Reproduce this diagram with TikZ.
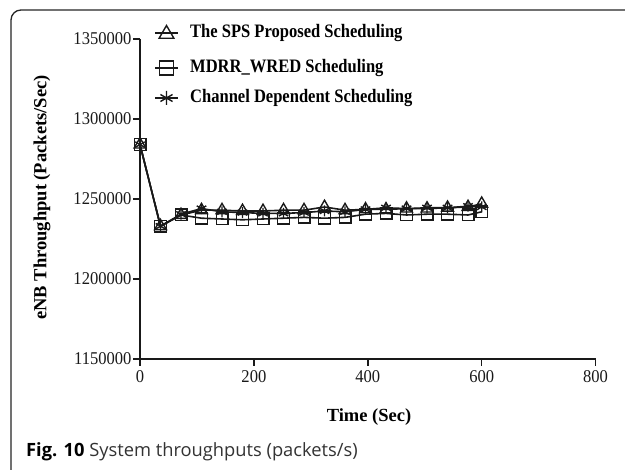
\documentclass[tikz,border=0pt]{standalone}
\usepackage{fontspec}
\setmainfont{Liberation Serif}
\newfontfamily\capfont{Open Sans}
\usetikzlibrary{plotmarks}

\tikzset{
  axisline/.style={line width=1.7pt, black!90},
  tickline/.style={line width=1.4pt, black!90},
  ticklabel/.style={font=\fontsize{18}{18}\selectfont, inner sep=1pt, xscale=0.92},
  series/.style={line width=1.6pt, black!90, mark options={solid, line width=1.4pt}},
  legtext/.style={font=\fontsize{19}{19}\selectfont\bfseries, anchor=west, inner sep=0pt, xscale=0.87},
  axtitle/.style={font=\fontsize{18.5}{19}\selectfont\bfseries},
}

\begin{document}
\begin{tikzpicture}[x=1pt,y=1pt]
\useasboundingbox (0,0) rectangle (625,470);
\fill[white] (0,0) rectangle (625,470);

% figure frame
\draw[line width=1.3pt, black!85, rounded corners=10pt] (11,-4) -- (11,460) -- (640,460);

% plot area: x in seconds, y in thousands above 1150000
\begin{scope}[shift={(140,111)}, x=0.5695pt, y=1.6pt]
  \draw[axisline] (0,200) -- (0,0) -- (800,0);
  \foreach \v/\lab in {0/1150000,50/1200000,100/1250000,150/1300000,200/1350000}
    \draw[tickline] (0,\v) -- ++(-7pt,0) node[ticklabel, anchor=east] {\lab};
  \foreach \t in {0,200,400,600,800}
    \draw[tickline] (\t,0) -- ++(0,-7pt) node[ticklabel, anchor=north, yshift=-3pt] {\t};

  % MDRR_WRED scheduling
  \draw[series] plot[mark=square, mark size=5.8pt] coordinates {
    (0,134) (36,83) (72,90) (108,88) (144,87.5) (180,87) (216,87.5) (252,88)
    (288,88.5) (324,88) (360,88.5) (396,90.5) (432,91) (468,90) (504,90.5)
    (540,90.5) (576,90) (600,92)};
  % channel dependent scheduling
  \draw[series] plot[mark=asterisk, mark size=5.5pt] coordinates {
    (0,134) (36,83) (72,90.5) (108,94) (144,92) (180,91.5) (216,91) (252,91)
    (288,91.5) (324,92.5) (360,92) (396,93.5) (432,94.5) (468,94) (504,94.5)
    (540,94.5) (576,95.5) (600,95)};
  % proposed SPS scheduling
  \draw[series] plot[mark=triangle, mark size=6.8pt] coordinates {
    (0,134) (36,83) (72,90) (108,93) (144,93) (180,92.5) (216,92.5) (252,93)
    (288,93) (324,95) (360,93) (396,93.5) (432,93.5) (468,94) (504,94)
    (540,94.5) (576,95) (600,97)};
\end{scope}

% legend
\coordinate (l1a) at (155,437); \coordinate (l1b) at (178,437);
\coordinate (l2a) at (155,402); \coordinate (l2b) at (178,402);
\coordinate (l3a) at (155,372); \coordinate (l3b) at (178,372);
\draw[series] plot[mark=triangle, mark size=8.5pt] coordinates {(166.5,436)};
\draw[series] (l1a) -- (l1b);
\draw[series] plot[mark=square, mark size=7pt] coordinates {(166.5,402)};
\draw[series] (l2a) -- (l2b);
\draw[series] plot[mark=asterisk, mark size=7pt] coordinates {(166.5,372)};
\draw[series] (l3a) -- (l3b);
\node[legtext] (t1) at (190,437) {The SPS Proposed Scheduling};
\node[legtext] (t2) at (190,402) {MDRR\_WRED Scheduling};
\node[legtext] (t3) at (190,372) {Channel Dependent Scheduling};

% axis titles
\node[axtitle, rotate=90] (ylab) at (42,272.5) {eNB Throughput (Packets/Sec)};
\node[axtitle] (xlab) at (369,53) {Time (Sec)};

% caption
\node[anchor=west, inner sep=0pt, font=\capfont\fontsize{18.3}{19}\selectfont, text=black!80] (cap) at (26,18)
  {\textcolor{black}{\bfseries Fig. 10} System throughputs (packets/s)};
\end{tikzpicture}
\end{document}
